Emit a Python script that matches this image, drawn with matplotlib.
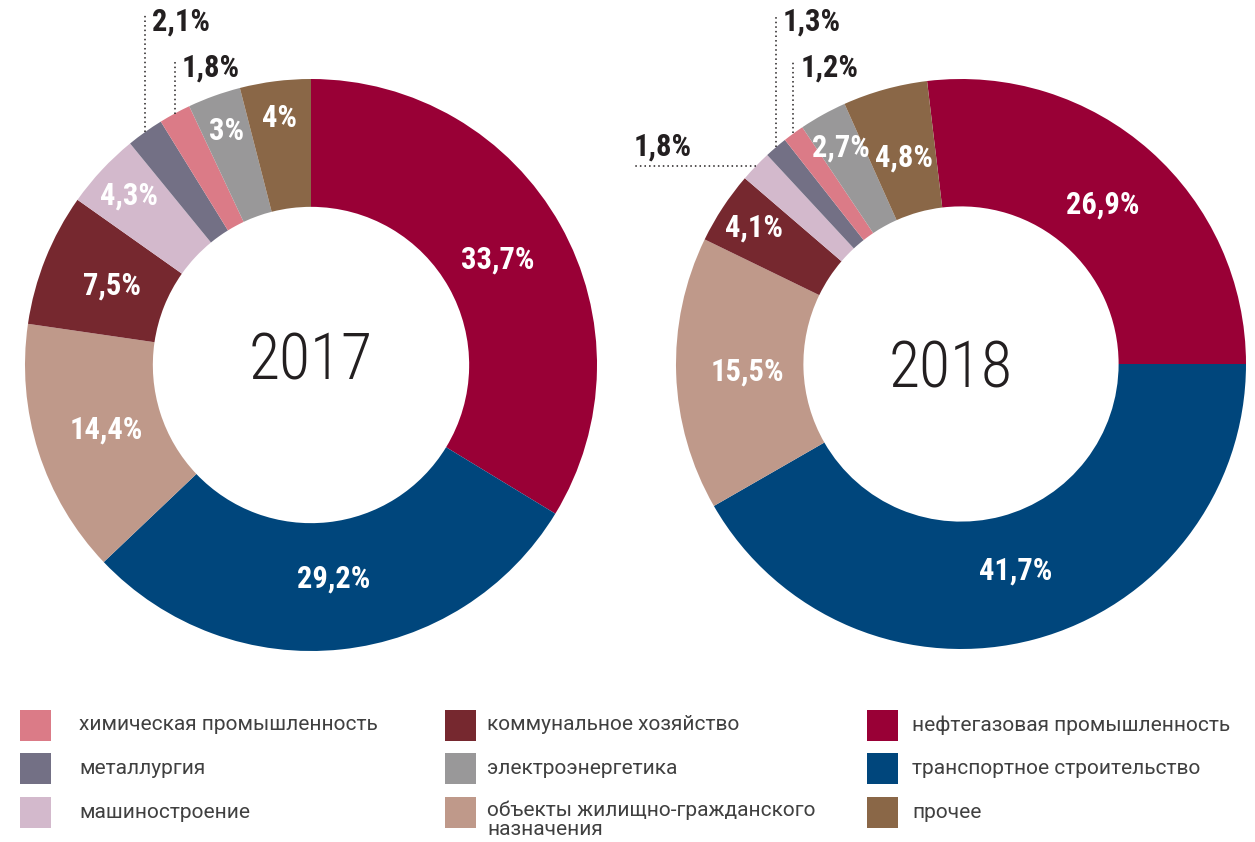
import numpy as np
import matplotlib
matplotlib.use('Agg')
from matplotlib import pyplot as plt
from matplotlib import font_manager
from matplotlib.patches import Rectangle

# data: shares of sectors, %, clockwise from the oil & gas sector
sectors = ['нефтегазовая промышленность', 'транспортное строительство',
           'объекты жилищно-гражданского\nназначения', 'коммунальное хозяйство',
           'машиностроение', 'металлургия', 'химическая промышленность',
           'электроэнергетика', 'прочее']
share_2017 = [33.7, 29.2, 14.4, 7.5, 4.3, 2.1, 1.8, 3.0, 4.0]
share_2018 = [26.9, 41.7, 15.5, 4.1, 1.8, 1.3, 1.2, 2.7, 4.8]
colors = ['#990036', '#00467c', '#bf998a', '#76282f', '#d3b9cc',
          '#737085', '#db7b87', '#999899', '#8a6747']
# legend goes column by column
legend_order = [6, 5, 4, 3, 7, 2, 0, 1, 8]

# fonts
available = {f.name for f in font_manager.fontManager.ttflist}


def pick(*names):
    for n in names:
        if n in available:
            return n
    return 'DejaVu Sans'


num_font = pick('Roboto Condensed', 'Liberation Sans Narrow', 'Roboto')
year_font = pick('Roboto Condensed', 'Roboto', 'Lato')
text_font = pick('Roboto', 'Open Sans')

W, H = 1255, 842
fig = plt.figure(figsize=(W / 100, H / 100), dpi=100)
dark = '#231f20'


def fmt(v):
    return f'{v:g}'.replace('.', ',') + '%'


def ring(values, start, cx, cy, r, year, year_pos, outside):
    k = 1.3
    s = r * k
    ax = fig.add_axes([(cx - s) / W, 1 - (cy + s) / H, 2 * s / W, 2 * s / H])
    wedges, _ = ax.pie(values, colors=colors, startangle=start,
                       counterclock=False, radius=1,
                       wedgeprops=dict(width=0.447, linewidth=0))
    ax.set_xlim(-k, k)
    ax.set_ylim(-k, k)
    ax.axis('off')

    for i, (w, v) in enumerate(zip(wedges, values)):
        a = np.deg2rad((w.theta1 + w.theta2) / 2)
        if i in outside:
            side, level = outside[i]
            px, py = np.cos(a), np.sin(a)
            if side == 'up':
                ax.plot([px, px], [py, level + 0.025], color=dark, lw=1.1,
                        ls=(0, (1, 2)), solid_capstyle='butt')
                ax.text(px + 0.025, level, fmt(v), ha='left', va='center',
                        fontsize=22, fontweight='bold', family=num_font, color=dark)
            else:
                ax.plot([px, level], [py, py], color=dark, lw=1.1,
                        ls=(0, (1, 2)))
                ax.text(level, py + 0.07, fmt(v), ha='left', va='center',
                        fontsize=22, fontweight='bold', family=num_font, color=dark)
        else:
            rr = 0.75 if v >= 4.5 else 0.87
            ax.text(rr * np.cos(a), rr * np.sin(a), fmt(v), ha='center', va='center',
                    fontsize=22, fontweight='bold', family=num_font, color='white')

    ax.text(year_pos[0], year_pos[1], year, ha='center', va='baseline',
            fontsize=46, fontweight='light', family=year_font, color=dark)
    return ax


# 2017 starts at 12 o'clock, in 2018 the oil & gas sector ends at 3 o'clock
ring(share_2017, 90, 311, 365, 286, '2017', (0.0, -0.052),
     {5: ('up', 1.20), 6: ('up', 1.04)})
ring(share_2018, 3.6 * share_2018[0], 961, 364, 285, '2018', (-0.035, -0.084),
     {5: ('up', 1.20), 6: ('up', 1.04), 4: ('left', -1.15)})

# legend
col_x = [20, 445, 867]
text_x = [79, 487, 912]
row_y = [725, 768, 812]
sq = 31
for n, idx in enumerate(legend_order):
    c, rw = divmod(n, 3)
    fig.add_artist(Rectangle(((col_x[c]) / W, 1 - (row_y[rw] + sq / 2) / H),
                             sq / W, sq / H, transform=fig.transFigure,
                             facecolor=colors[idx], edgecolor='none'))
    label = sectors[idx]
    if '\n' in label:
        fig.text(text_x[c] / W, 1 - (row_y[rw] - 12) / H, label, ha='left', va='top',
                 fontsize=15, family=text_font, color='#404040', linespacing=1.05)
    else:
        fig.text(text_x[c] / W, 1 - row_y[rw] / H, label, ha='left', va='center',
                 fontsize=15, family=text_font, color='#404040')

fig.savefig('out.png', dpi=100)
